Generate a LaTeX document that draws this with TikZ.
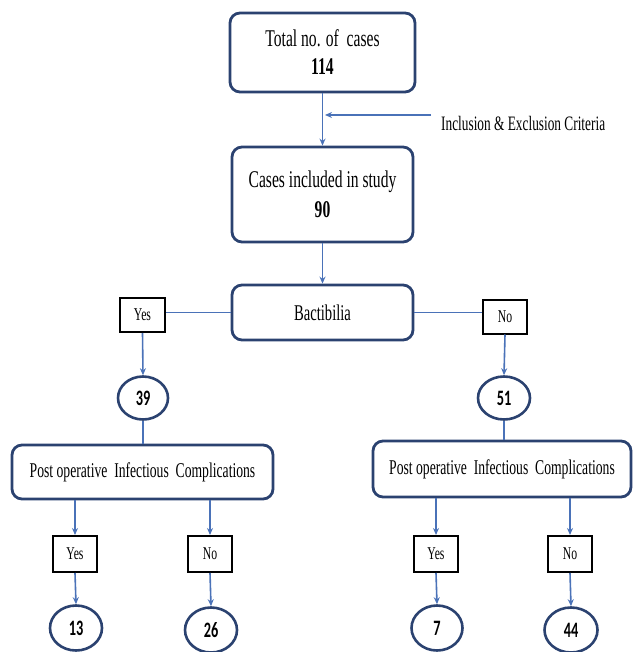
\documentclass[tikz,border=0pt]{standalone}
\usepackage{fontspec}
\setmainfont{Liberation Serif}[FakeStretch=0.65]
\newfontfamily\numfont{Carlito}[FakeStretch=0.65]
\usetikzlibrary{arrows.meta,shapes.geometric}
\definecolor{navy}{HTML}{2B4270}
\definecolor{arrowblue}{HTML}{4A72B8}
\tikzset{
  bigbox/.style={draw=navy, line width=2.8pt, rounded corners=10pt, fill=white, inner sep=0pt, align=center},
  smallbox/.style={draw=black, line width=2pt, fill=white, inner sep=0pt, minimum width=44pt, minimum height=34pt, font=\fontsize{18}{20}\selectfont},
  countell/.style={draw=navy, ellipse, line width=2.6pt, inner sep=0pt, minimum width=51pt, minimum height=44pt, font=\numfont\bfseries\fontsize{22}{24}\selectfont},
  conn/.style={draw=arrowblue, line width=1.6pt},
  arr/.style={conn, -{Stealth[length=7pt,width=6pt]}},
}
\begin{document}
\begin{tikzpicture}[x=1pt,y=-1pt]
\useasboundingbox (0,0) rectangle (633,652);
% main boxes
\node[bigbox, minimum width=185pt, minimum height=79pt, font=\fontsize{24}{30}\selectfont] (total) at (322.5,52.5) {Total no. of\ \ cases\\[-2pt]\textbf{114}};
\node[bigbox, minimum width=181pt, minimum height=95pt, font=\fontsize{24}{28}\selectfont] (incl) at (322.5,194.5) {Cases included in study\\[2pt]\textbf{90}};
\node[bigbox, minimum width=181pt, minimum height=55pt, font=\fontsize{22.5}{26}\selectfont] (bact) at (322.5,312.5) {Bactibilia};
% yes / no first level
\node[smallbox, minimum width=45pt] (yes1) at (142.5,315) {Yes};
\node[smallbox] (no1) at (505,316.5) {No};
\node[countell, minimum width=50pt, minimum height=43pt] (e39) at (143,398) {39};
\node[countell, minimum width=52pt, minimum height=43pt] (e51) at (504,398) {51};
% post operative boxes
\node[bigbox, minimum width=261pt, minimum height=54pt, font=\fontsize{21}{24}\selectfont] (post1) at (142.5,472) {Post operative\ \ Infectious\ \ Complications};
\node[bigbox, minimum width=258pt, minimum height=56pt, font=\fontsize{21}{24}\selectfont] (post2) at (502,469) {Post operative\ \ Infectious\ \ Complications};
% second level yes/no
\node[smallbox, minimum height=36pt] (yesA) at (75,554) {Yes};
\node[smallbox, minimum height=36pt] (noA) at (210,554) {No};
\node[smallbox, minimum height=36pt] (yesB) at (436,554) {Yes};
\node[smallbox, minimum height=36pt] (noB) at (570,554) {No};
% final counts
\node[countell, minimum width=52pt, minimum height=45pt] (e13) at (76,628) {13};
\node[countell, minimum width=52pt, minimum height=45pt] (e26) at (211,630) {26};
\node[countell, minimum width=51pt, minimum height=45pt] (e7) at (437,628) {7};
\node[countell, minimum width=53pt, minimum height=45pt] (e44) at (571,630) {44};
% inclusion criteria
\node[anchor=west, inner sep=0pt, font=\fontsize{20.5}{22}\selectfont] (crit) at (441,123) {Inclusion \& Exclusion Criteria};
\coordinate (critstart) at (431,115);
\coordinate (critend) at (325,115);
% connectors
\draw[arr] (total.south) -- (incl.north);
\draw[arr] (critstart) -- (critend);
\draw[arr] (incl.south) -- (bact.north);
\draw[conn] (bact.west) -- (bact.west -| yes1.east);
\draw[conn] (bact.east) -- (bact.east -| no1.west);
\draw[arr] (yes1.south) -- (e39.north);
\draw[arr] (no1.south) -- (e51.north);
\draw[conn] (e39.south) -- (post1.north -| e39.south);
\draw[conn] (e51.south) -- (post2.north -| e51.south);
\draw[arr] (post1.south -| yesA.north) -- (yesA.north);
\draw[arr] (post1.south -| noA.north) -- (noA.north);
\draw[arr] (post2.south -| yesB.north) -- (yesB.north);
\draw[arr] (post2.south -| noB.north) -- (noB.north);
\draw[arr] (yesA.south) -- (e13.north);
\draw[arr] (noA.south) -- (e26.north);
\draw[arr] (yesB.south) -- (e7.north);
\draw[arr] (noB.south) -- (e44.north);
\end{tikzpicture}
\end{document}
